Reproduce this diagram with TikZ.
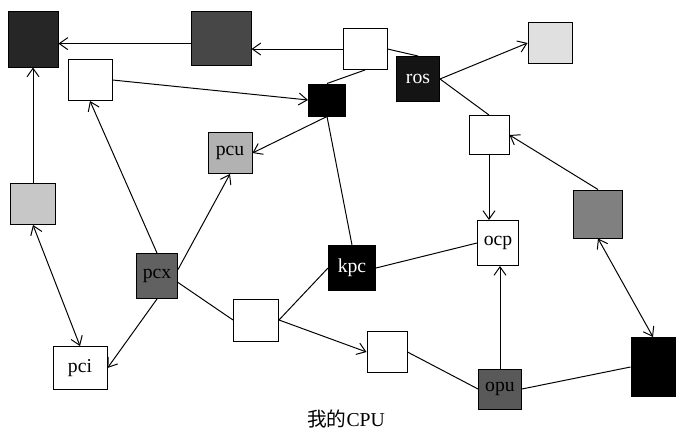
\documentclass[tikz,border=0pt]{standalone}
\usepackage{fontspec}
\setmainfont{Liberation Serif}
\newfontfamily\cjkfont{Noto Sans CJK SC}
\usetikzlibrary{arrows.meta}

\begin{document}
\begin{tikzpicture}[x=0.025cm,y=-0.025cm,line width=0.7pt,
  >={Straight Barb[length=6pt,width=8.5pt]},
  unit/.style 2 args={draw,inner sep=0pt,minimum width=#1*0.025cm,
    minimum height=#2*0.025cm,font=\fontsize{14}{16}\selectfont},
  dark/.style={fill=black,text=white}
]
  \useasboundingbox (0,0) rectangle (677,432);
  % top row
  \node[unit={50}{56},fill=black!85] (nw) at (33,39) {};
  \node[unit={60}{54},fill=black!72] (n) at (221,38) {};
  \node[unit={44}{41}] (mid) at (365,49) {};
  \node[unit={43}{45},dark,fill=black!92] (ros) at (418,79) {ros};
  \node[unit={44}{41},fill=black!12] (ne) at (550,43) {};
  \node[unit={44}{41}] (w1) at (90,80) {};
  \node[unit={37}{32},dark] (hub) at (327,100) {};
  \node[unit={44}{41},fill=black!30] (pcu) at (230,153) {pcu};
  \node[unit={40}{39}] (e1) at (489,135) {};
  % middle
  \node[unit={45}{41},fill=black!22] (w) at (33,204) {};
  \node[unit={49}{48},fill=black!50] (e) at (598,214) {};
  \node[unit={41}{45},fill=black!62] (pcx) at (157,276) {pcx};
  \node[unit={47}{45},dark] (kpc) at (352,268) {kpc};
  \node[unit={41}{45}] (ocp) at (498,243) {ocp};
  % bottom row
  \node[unit={45}{42}] (j1) at (256,320) {};
  \node[unit={54}{43}] (pci) at (80,368) {pci};
  \node[unit={40}{41}] (j2) at (387,352) {};
  \node[unit={43}{40},fill=black!65] (opu) at (500,389) {opu};
  \node[unit={44}{59},dark] (se) at (653,367) {};
  \node[font=\fontsize{14}{16}\selectfont] (cap) at (346,419) {{\cjkfont 我的}CPU};

  % connectors
  \draw[->] ([yshift=-4pt]n.west) -- ([yshift=-4pt]n.west -| nw.east);
  \draw[->] (mid.west) -- (mid.west -| n.east);
  \draw[->] (w) -- (nw);
  \draw[->] (w1.east) -- (hub.west);
  \draw (mid.south) -- (hub.north);
  \draw (mid.east) -- (ros.north);
  \draw[->] (ros.east) -- (ne.west);
  \draw (ros.east) -- (e1.north);
  \draw[->] (e.north) -- (e1.east);
  \draw[->] (e1.south) -- (e1.south |- ocp.north);
  \draw[->] (hub.south) -- (pcu.east);
  \draw (hub.south) -- (kpc.north);
  \draw[->] (pcx.north) -- (w1.south);
  \draw[->] ([yshift=4.6pt]pcx.east) -- (pcu.south);
  \draw[->] (pcx.south) -- (pci.east);
  \draw[<->] (w.south) -- (pci.north);
  \draw ([yshift=-4.6pt]pcx.east) -- (j1.west);
  \draw (kpc.west) -- (j1.east);
  \draw[->] (j1.east) -- (j2.west);
  \draw (kpc.east) -- (ocp.west);
  \draw (j2.east) -- (opu.west);
  \draw[->] (opu.north) -- (opu.north |- ocp.south);
  \draw (opu.east) -- (se.west);
  \draw[<->] (e.south) -- (se.north);
\end{tikzpicture}
\end{document}
